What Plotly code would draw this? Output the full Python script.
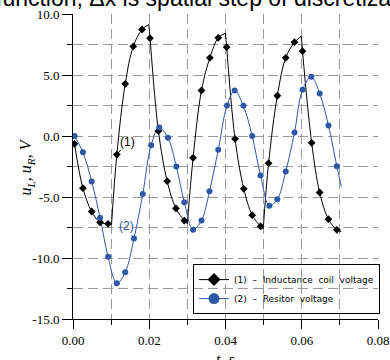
import plotly.graph_objects as go

# ---------------- data ----------------
# (1) inductance coil voltage: marker points
t_L = [0.0004, 0.0026, 0.0049, 0.0071, 0.0092, 0.0115, 0.0137, 0.0158, 0.0181, 0.0202,
       0.0224, 0.0247, 0.0270, 0.0292, 0.0315, 0.0337, 0.0359, 0.0381, 0.0403, 0.0425,
       0.0448, 0.0470, 0.0492, 0.0513, 0.0536, 0.0558, 0.0581, 0.0602, 0.0626, 0.0647,
       0.0670, 0.0692]
u_L = [-0.64, -4.28, -6.19, -7.07, -7.20, -1.52, 4.28, 7.34, 8.73, 8.02,
       0.42, -3.70, -5.94, -6.93, -1.79, 3.73, 6.41, 8.05, 7.28, -0.23,
       -4.33, -6.49, -7.40, -2.23, 3.30, 6.41, 7.69, 6.95, -0.56, -4.63,
       -6.82, -7.69]
# (1) switching points of the coil voltage (sharp corners of the curve)
t_L_corner = [0.0101, 0.0199, 0.0300, 0.0400, 0.0499, 0.0599]
u_L_corner = [-7.28, 9.14, -7.20, 8.43, -7.60, 8.18]
t_L_end, u_L_end = 0.0704, -7.83

# (2) resistor voltage: marker points
t_R = [0.0004, 0.0026, 0.0049, 0.0071, 0.0092, 0.0115, 0.0137, 0.0160, 0.0183, 0.0205,
       0.0226, 0.0249, 0.0271, 0.0292, 0.0315, 0.0337, 0.0358, 0.0381, 0.0404, 0.0424,
       0.0447, 0.0470, 0.0492, 0.0515, 0.0536, 0.0558, 0.0581, 0.0602, 0.0625, 0.0647,
       0.0670, 0.0692]
u_R = [0.00, -1.33, -3.73, -6.70, -9.90, -12.06, -11.16, -8.40, -4.75, -0.75,
       0.70, -0.15, -2.50, -5.43, -7.69, -6.93, -4.52, -1.13, 2.50, 3.73,
       2.47, -0.01, -3.24, -5.72, -5.18, -2.91, 0.29, 3.79, 4.85, 3.48,
       0.86, -2.47]
t_R_end, u_R_end = 0.0704, -4.14

x_tickvals = [0.00, 0.02, 0.04, 0.06, 0.08]
x_ticktext = ["0.00", "0.02", "0.04", "0.06", "0.08"]
x_minor = [0.01, 0.03, 0.05, 0.07]
y_tickvals = [-15, -10, -5, 0, 5, 10]
y_ticktext = ["-15.0", "-10.0", "-5.0", "0.0", "5.0", "10.0"]
y_minor = [-12.5, -7.5, -2.5, 2.5, 7.5]

legend_names = ["(1)\u00a0 \u2013 \u00a0Inductance\u00a0 coil\u00a0 voltage",
                "(2)\u00a0 \u2013 \u00a0Resitor\u00a0 voltage"]
title_text = "function, \u0394x is spatial step of discretization"

BLACK = "#000000"
BLUE = "#2F57A8"

# ------------- build the coil-voltage line (segments split at corners) -------------
pts = [(t, u, False) for t, u in zip(t_L, u_L)] + \
      [(t, u, True) for t, u in zip(t_L_corner, u_L_corner)] + [(t_L_end, u_L_end, False)]
pts.sort(key=lambda p: p[0])
line_x, line_y = [], []
for t, u, corner in pts:
    line_x.append(t)
    line_y.append(u)
    if corner:
        line_x += [None, t]
        line_y += [None, u]

fig = go.Figure()
# lines
fig.add_trace(go.Scatter(x=line_x, y=line_y, mode="lines", showlegend=False,
                         line=dict(color=BLACK, width=1, shape="spline", smoothing=1.0),
                         connectgaps=False, hoverinfo="skip"))
fig.add_trace(go.Scatter(x=t_R + [t_R_end], y=u_R + [u_R_end], mode="lines", showlegend=False,
                         line=dict(color=BLUE, width=1, shape="spline", smoothing=1.0),
                         hoverinfo="skip"))
# markers
fig.add_trace(go.Scatter(x=t_L, y=u_L, mode="markers", showlegend=False,
                         marker=dict(symbol="diamond", size=6, color=BLACK)))
fig.add_trace(go.Scatter(x=t_R, y=u_R, mode="markers", showlegend=False,
                         marker=dict(symbol="circle", size=6, color=BLUE)))
# legend entries
fig.add_trace(go.Scatter(x=[None], y=[None], mode="lines+markers", name=legend_names[0],
                         line=dict(color=BLACK, width=1),
                         marker=dict(symbol="diamond", size=10, color=BLACK)))
fig.add_trace(go.Scatter(x=[None], y=[None], mode="lines+markers", name=legend_names[1],
                         line=dict(color=BLUE, width=1),
                         marker=dict(symbol="circle", size=11, color=BLUE)))

tickfont = dict(family="Liberation Serif", size=13, color="black")
grid = dict(showgrid=True, gridcolor="#9a9a9a", gridwidth=1, griddash="10px,5px")

fig.update_xaxes(range=[0, 0.08], tickmode="array", tickvals=x_tickvals, ticktext=x_ticktext,
                 ticks="outside", ticklen=9, tickcolor="black", tickwidth=1,
                 showline=True, linecolor="black", linewidth=1, zeroline=False,
                 tickfont=tickfont, automargin=False,
                 minor=dict(tickmode="array", tickvals=x_minor, ticks="outside", ticklen=5,
                            tickcolor="black", showgrid=True, gridcolor="#9a9a9a",
                            griddash="10px,5px", gridwidth=1),
                 **grid)
fig.update_yaxes(range=[-15, 10], tickmode="array", tickvals=y_tickvals, ticktext=y_ticktext,
                 ticks="outside", ticklen=10, tickcolor="black", tickwidth=1,
                 showline=True, linecolor="black", linewidth=1, zeroline=False,
                 tickfont=tickfont, automargin=False,
                 minor=dict(tickmode="array", tickvals=y_minor, ticks="outside", ticklen=5,
                            tickcolor="black", showgrid=True, gridcolor="#9a9a9a",
                            griddash="10px,5px", gridwidth=1),
                 **grid)

fig.update_layout(
    width=390, height=360,
    margin=dict(l=73, r=10, t=14, b=41),
    paper_bgcolor="white", plot_bgcolor="white",
    template="none",
    showlegend=True,
    legend=dict(x=0.3935, y=0.18, xanchor="left", yanchor="top",
                bgcolor="rgba(0,0,0,0)", bordercolor="black", borderwidth=1,
                font=dict(family="DejaVu Sans", size=9, color="black"),
                tracegroupgap=0, itemsizing="trace"),
    annotations=[
        dict(text=title_text, xref="paper", yref="paper", x=-0.26, y=1.053,
             xanchor="left", yanchor="middle", showarrow=False,
             font=dict(family="Liberation Sans", size=23, color="black")),
        dict(text="<i>u</i><sub><i>L</i></sub><i>, u</i><sub><i>R</i></sub><i>, V</i>",
             xref="paper", yref="paper", x=-0.151, y=0.5, textangle=-90,
             xanchor="center", yanchor="middle", showarrow=False,
             font=dict(family="Liberation Serif", size=16, color="black")),
        dict(text="<i>t, s</i>", xref="paper", yref="paper", x=0.5, y=-0.098,
             xanchor="center", yanchor="top", showarrow=False,
             font=dict(family="Liberation Serif", size=16, color="black")),
        dict(text="(1)", x=t_L[5], y=u_L[5], xref="x", yref="y", showarrow=True,
             ax=11, ay=-13, arrowhead=0, arrowwidth=1, arrowcolor="black", standoff=0,
             font=dict(family="Liberation Sans", size=12, color="black")),
        dict(text="(2)", x=t_R[7], y=u_R[7], xref="x", yref="y", showarrow=True,
             ax=-8, ay=-12, arrowhead=0, arrowwidth=1, arrowcolor=BLUE, standoff=0,
             font=dict(family="Liberation Sans", size=12, color=BLUE)),
    ],
)

fig.write_html("out.html", config={"displayModeBar": False},
               post_script="document.body.style.margin='0px';document.body.style.overflow='hidden';")
